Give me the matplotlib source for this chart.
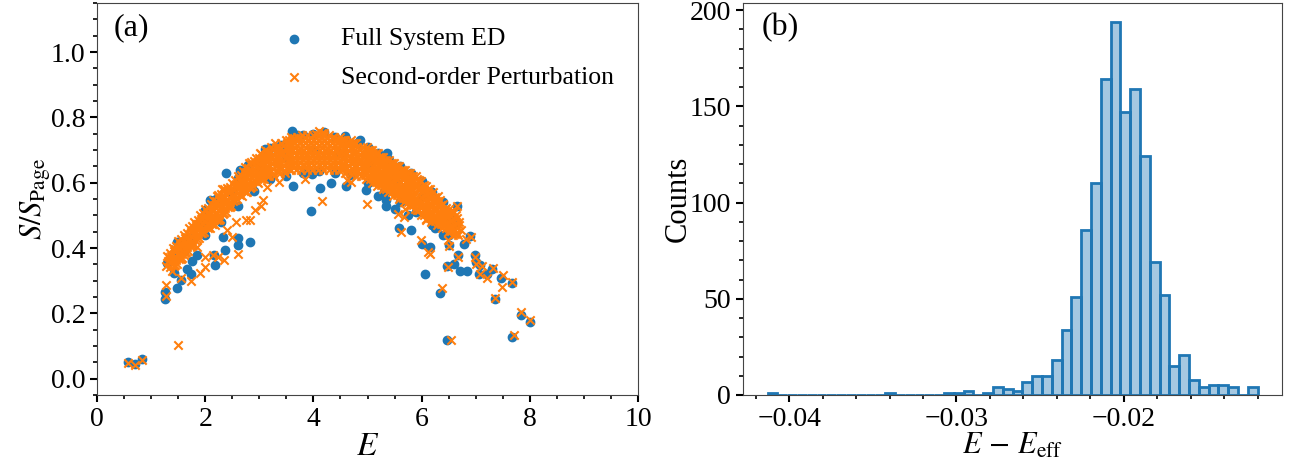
import matplotlib
matplotlib.use("Agg")
import matplotlib.pyplot as plt
import numpy as np

plt.rcParams['font.family'] = 'serif'
plt.rcParams['font.serif'] = ['Liberation Serif', 'DejaVu Serif']
plt.rcParams['mathtext.fontset'] = 'stix'

# ---- panel (a): entanglement entropy vs energy ----
# dense band of the second-order perturbation results (E, S/S_Page)
pt_band = [
    (1.28, 0.345), (1.32, 0.36), (1.30, 0.375),
    (1.38, 0.33), (1.42, 0.345), (1.40, 0.36), (1.37, 0.375), (1.43, 0.39), (1.40, 0.40),
    (1.48, 0.35), (1.52, 0.365), (1.50, 0.38), (1.47, 0.395), (1.53, 0.41), (1.50, 0.42),
    (1.58, 0.37), (1.62, 0.385), (1.60, 0.40), (1.57, 0.415), (1.63, 0.43), (1.60, 0.44),
    (1.68, 0.39), (1.72, 0.405), (1.70, 0.42), (1.67, 0.435), (1.73, 0.45), (1.70, 0.46),
    (1.78, 0.41), (1.82, 0.425), (1.80, 0.44), (1.77, 0.455), (1.83, 0.47), (1.80, 0.48),
    (1.88, 0.43), (1.92, 0.445), (1.90, 0.46), (1.87, 0.475), (1.93, 0.49), (1.90, 0.50),
    (1.98, 0.45), (2.02, 0.465), (2.00, 0.48), (1.97, 0.495), (2.03, 0.51), (2.00, 0.52),
    (2.08, 0.46), (2.12, 0.475), (2.10, 0.49), (2.07, 0.505), (2.13, 0.52), (2.10, 0.535),
    (2.18, 0.47), (2.22, 0.485), (2.20, 0.50), (2.17, 0.515), (2.23, 0.53), (2.20, 0.545), (2.21, 0.56),
    (2.28, 0.49), (2.32, 0.505), (2.30, 0.52), (2.27, 0.535), (2.33, 0.55), (2.30, 0.565), (2.31, 0.58),
    (2.38, 0.51), (2.42, 0.525), (2.40, 0.54), (2.37, 0.555), (2.43, 0.57), (2.40, 0.585),
    (2.48, 0.53), (2.52, 0.545), (2.50, 0.56), (2.47, 0.575), (2.53, 0.59), (2.50, 0.60),
    (2.58, 0.55), (2.62, 0.565), (2.60, 0.58), (2.57, 0.595), (2.63, 0.61), (2.60, 0.62),
    (2.68, 0.56), (2.72, 0.575), (2.70, 0.59), (2.67, 0.605), (2.73, 0.62), (2.70, 0.635),
    (2.78, 0.57), (2.82, 0.585), (2.80, 0.60), (2.77, 0.615), (2.83, 0.63), (2.80, 0.645), (2.81, 0.66),
    (2.88, 0.59), (2.92, 0.605), (2.90, 0.62), (2.87, 0.635), (2.93, 0.65), (2.90, 0.665),
    (2.98, 0.60), (3.02, 0.615), (3.00, 0.63), (2.97, 0.645), (3.03, 0.66), (3.00, 0.675), (3.01, 0.69),
    (3.08, 0.61), (3.12, 0.625), (3.10, 0.64), (3.07, 0.655), (3.13, 0.67), (3.10, 0.685), (3.11, 0.70),
    (3.18, 0.62), (3.22, 0.635), (3.20, 0.65), (3.17, 0.665), (3.23, 0.68), (3.20, 0.695), (3.21, 0.71),
    (3.28, 0.62), (3.32, 0.635), (3.30, 0.65), (3.27, 0.665), (3.33, 0.68), (3.30, 0.695), (3.31, 0.71), (3.29, 0.72),
    (3.38, 0.63), (3.42, 0.645), (3.40, 0.66), (3.37, 0.675), (3.43, 0.69), (3.40, 0.705), (3.41, 0.72),
    (3.48, 0.63), (3.52, 0.645), (3.50, 0.66), (3.47, 0.675), (3.53, 0.69), (3.50, 0.705), (3.51, 0.72), (3.49, 0.73),
    (3.58, 0.64), (3.62, 0.655), (3.60, 0.67), (3.57, 0.685), (3.63, 0.70), (3.60, 0.715), (3.61, 0.73), (3.59, 0.74),
    (3.68, 0.64), (3.72, 0.655), (3.70, 0.67), (3.67, 0.685), (3.73, 0.70), (3.70, 0.715), (3.71, 0.73), (3.69, 0.74),
    (3.78, 0.64), (3.82, 0.655), (3.80, 0.67), (3.77, 0.685), (3.83, 0.70), (3.80, 0.715), (3.81, 0.73), (3.79, 0.745),
    (3.88, 0.64), (3.92, 0.655), (3.90, 0.67), (3.87, 0.685), (3.93, 0.70), (3.90, 0.715), (3.91, 0.73), (3.89, 0.745),
    (3.98, 0.64), (4.02, 0.655), (4.00, 0.67), (3.97, 0.685), (4.03, 0.70), (4.00, 0.715), (4.01, 0.73), (3.99, 0.745),
    (4.08, 0.64), (4.12, 0.655), (4.10, 0.67), (4.07, 0.685), (4.13, 0.70), (4.10, 0.715), (4.11, 0.73), (4.09, 0.745), (4.10, 0.758),
    (4.18, 0.64), (4.22, 0.655), (4.20, 0.67), (4.17, 0.685), (4.23, 0.70), (4.20, 0.715), (4.21, 0.73), (4.19, 0.745), (4.20, 0.752),
    (4.28, 0.64), (4.32, 0.655), (4.30, 0.67), (4.27, 0.685), (4.33, 0.70), (4.30, 0.715), (4.31, 0.73), (4.29, 0.745),
    (4.38, 0.64), (4.42, 0.655), (4.40, 0.67), (4.37, 0.685), (4.43, 0.70), (4.40, 0.715), (4.41, 0.73), (4.39, 0.74),
    (4.48, 0.64), (4.52, 0.655), (4.50, 0.67), (4.47, 0.685), (4.53, 0.70), (4.50, 0.715), (4.51, 0.73), (4.49, 0.74),
    (4.58, 0.63), (4.62, 0.645), (4.60, 0.66), (4.57, 0.675), (4.63, 0.69), (4.60, 0.705), (4.61, 0.72), (4.59, 0.73),
    (4.68, 0.63), (4.72, 0.645), (4.70, 0.66), (4.67, 0.675), (4.73, 0.69), (4.70, 0.705), (4.71, 0.72), (4.69, 0.73),
    (4.78, 0.62), (4.82, 0.635), (4.80, 0.65), (4.77, 0.665), (4.83, 0.68), (4.80, 0.695), (4.81, 0.71), (4.79, 0.72),
    (4.88, 0.62), (4.92, 0.635), (4.90, 0.65), (4.87, 0.665), (4.93, 0.68), (4.90, 0.695), (4.91, 0.71),
    (4.98, 0.61), (5.02, 0.625), (5.00, 0.64), (4.97, 0.655), (5.03, 0.67), (5.00, 0.685), (5.01, 0.70), (4.99, 0.71),
    (5.08, 0.60), (5.12, 0.615), (5.10, 0.63), (5.07, 0.645), (5.13, 0.66), (5.10, 0.675), (5.11, 0.69), (5.09, 0.70),
    (5.18, 0.59), (5.22, 0.605), (5.20, 0.62), (5.17, 0.635), (5.23, 0.65), (5.20, 0.665), (5.21, 0.68), (5.19, 0.69),
    (5.28, 0.58), (5.32, 0.595), (5.30, 0.61), (5.27, 0.625), (5.33, 0.64), (5.30, 0.655), (5.31, 0.67), (5.29, 0.68),
    (5.38, 0.57), (5.42, 0.585), (5.40, 0.60), (5.37, 0.615), (5.43, 0.63), (5.40, 0.645), (5.41, 0.66), (5.39, 0.67),
    (5.48, 0.56), (5.52, 0.575), (5.50, 0.59), (5.47, 0.605), (5.53, 0.62), (5.50, 0.635), (5.51, 0.65), (5.49, 0.66),
    (5.58, 0.55), (5.62, 0.565), (5.60, 0.58), (5.57, 0.595), (5.63, 0.61), (5.60, 0.625), (5.61, 0.64), (5.59, 0.65),
    (5.68, 0.54), (5.72, 0.555), (5.70, 0.57), (5.67, 0.585), (5.73, 0.60), (5.70, 0.615), (5.71, 0.63), (5.69, 0.64),
    (5.78, 0.53), (5.82, 0.545), (5.80, 0.56), (5.77, 0.575), (5.83, 0.59), (5.80, 0.605), (5.81, 0.62), (5.79, 0.63),
    (5.88, 0.52), (5.92, 0.535), (5.90, 0.55), (5.87, 0.565), (5.93, 0.58), (5.90, 0.595), (5.91, 0.61), (5.89, 0.62),
    (5.98, 0.50), (6.02, 0.515), (6.00, 0.53), (5.97, 0.545), (6.03, 0.56), (6.00, 0.575), (6.01, 0.59), (5.99, 0.605),
    (6.08, 0.49), (6.12, 0.505), (6.10, 0.52), (6.07, 0.535), (6.13, 0.55), (6.10, 0.565), (6.11, 0.58), (6.09, 0.59),
    (6.18, 0.48), (6.22, 0.495), (6.20, 0.51), (6.17, 0.525), (6.23, 0.54), (6.20, 0.555), (6.21, 0.57),
    (6.28, 0.47), (6.32, 0.485), (6.30, 0.50), (6.27, 0.515), (6.33, 0.53), (6.30, 0.545), (6.31, 0.56),
    (6.38, 0.46), (6.42, 0.475), (6.40, 0.49), (6.37, 0.505), (6.43, 0.52), (6.40, 0.535),
    (6.48, 0.45), (6.52, 0.465), (6.50, 0.48), (6.47, 0.495), (6.53, 0.51), (6.50, 0.52),
    (6.58, 0.44), (6.62, 0.455), (6.60, 0.47), (6.57, 0.485), (6.63, 0.50), (6.60, 0.51),
    (6.68, 0.44), (6.72, 0.455), (6.70, 0.47), (6.69, 0.48),
]

# more band points, read between the columns above
pt_band2 = [
    (1.35, 0.342), (1.36, 0.357), (1.34, 0.372), (1.35, 0.386),
    (1.45, 0.347), (1.46, 0.362), (1.44, 0.377), (1.45, 0.392), (1.46, 0.407),
    (1.55, 0.367), (1.56, 0.382), (1.54, 0.397), (1.55, 0.412), (1.56, 0.427),
    (1.65, 0.387), (1.66, 0.402), (1.64, 0.417), (1.65, 0.432), (1.66, 0.447),
    (1.75, 0.407), (1.76, 0.422), (1.74, 0.437), (1.75, 0.452), (1.76, 0.467),
    (1.85, 0.427), (1.86, 0.442), (1.84, 0.457), (1.85, 0.472), (1.86, 0.487),
    (1.95, 0.447), (1.96, 0.462), (1.94, 0.477), (1.95, 0.492), (1.96, 0.507),
    (2.05, 0.462), (2.06, 0.477), (2.04, 0.492), (2.05, 0.507), (2.06, 0.522),
    (2.15, 0.472), (2.16, 0.487), (2.14, 0.502), (2.15, 0.517), (2.16, 0.532), (2.14, 0.547),
    (2.25, 0.487), (2.26, 0.502), (2.24, 0.517), (2.25, 0.532), (2.26, 0.547), (2.24, 0.562),
    (2.35, 0.507), (2.36, 0.522), (2.34, 0.537), (2.35, 0.552), (2.36, 0.567), (2.34, 0.582),
    (2.45, 0.527), (2.46, 0.542), (2.44, 0.557), (2.45, 0.572), (2.46, 0.587),
    (2.55, 0.547), (2.56, 0.562), (2.54, 0.577), (2.55, 0.592), (2.56, 0.607),
    (2.65, 0.562), (2.66, 0.577), (2.64, 0.592), (2.65, 0.607), (2.66, 0.622),
    (2.75, 0.572), (2.76, 0.587), (2.74, 0.602), (2.75, 0.617), (2.76, 0.632), (2.74, 0.647),
    (2.85, 0.587), (2.86, 0.602), (2.84, 0.617), (2.85, 0.632), (2.86, 0.647), (2.84, 0.662),
    (2.95, 0.602), (2.96, 0.617), (2.94, 0.632), (2.95, 0.647), (2.96, 0.662), (2.94, 0.677),
    (3.05, 0.612), (3.06, 0.627), (3.04, 0.642), (3.05, 0.657), (3.06, 0.672), (3.04, 0.687),
    (3.15, 0.622), (3.16, 0.637), (3.14, 0.652), (3.15, 0.667), (3.16, 0.682), (3.14, 0.697),
    (3.25, 0.627), (3.26, 0.642), (3.24, 0.657), (3.25, 0.672), (3.26, 0.687), (3.24, 0.702),
    (3.35, 0.632), (3.36, 0.647), (3.34, 0.662), (3.35, 0.677), (3.36, 0.692), (3.34, 0.707),
    (3.45, 0.637), (3.46, 0.652), (3.44, 0.667), (3.45, 0.682), (3.46, 0.697), (3.44, 0.712),
    (3.55, 0.642), (3.56, 0.657), (3.54, 0.672), (3.55, 0.687), (3.56, 0.702), (3.54, 0.717), (3.55, 0.730),
    (3.65, 0.647), (3.66, 0.662), (3.64, 0.677), (3.65, 0.692), (3.66, 0.707), (3.64, 0.722), (3.65, 0.736),
    (3.75, 0.647), (3.76, 0.662), (3.74, 0.677), (3.75, 0.692), (3.76, 0.707), (3.74, 0.722), (3.75, 0.737),
    (3.85, 0.647), (3.86, 0.662), (3.84, 0.677), (3.85, 0.692), (3.86, 0.707), (3.84, 0.722), (3.85, 0.737),
    (3.95, 0.647), (3.96, 0.662), (3.94, 0.677), (3.95, 0.692), (3.96, 0.707), (3.94, 0.722), (3.95, 0.737),
    (4.05, 0.647), (4.06, 0.662), (4.04, 0.677), (4.05, 0.692), (4.06, 0.707), (4.04, 0.722), (4.05, 0.737), (4.05, 0.750),
    (4.15, 0.647), (4.16, 0.662), (4.14, 0.677), (4.15, 0.692), (4.16, 0.707), (4.14, 0.722), (4.15, 0.737), (4.15, 0.752),
    (4.25, 0.647), (4.26, 0.662), (4.24, 0.677), (4.25, 0.692), (4.26, 0.707), (4.24, 0.722), (4.25, 0.737),
    (4.35, 0.647), (4.36, 0.662), (4.34, 0.677), (4.35, 0.692), (4.36, 0.707), (4.34, 0.722), (4.35, 0.737),
    (4.45, 0.647), (4.46, 0.662), (4.44, 0.677), (4.45, 0.692), (4.46, 0.707), (4.44, 0.722), (4.45, 0.735),
    (4.55, 0.642), (4.56, 0.657), (4.54, 0.672), (4.55, 0.687), (4.56, 0.702), (4.54, 0.717), (4.55, 0.730),
    (4.65, 0.637), (4.66, 0.652), (4.64, 0.667), (4.65, 0.682), (4.66, 0.697), (4.64, 0.712), (4.65, 0.725),
    (4.75, 0.632), (4.76, 0.647), (4.74, 0.662), (4.75, 0.677), (4.76, 0.692), (4.74, 0.707), (4.75, 0.720),
    (4.85, 0.627), (4.86, 0.642), (4.84, 0.657), (4.85, 0.672), (4.86, 0.687), (4.84, 0.702),
    (4.95, 0.622), (4.96, 0.637), (4.94, 0.652), (4.95, 0.667), (4.96, 0.682), (4.94, 0.697),
    (5.05, 0.612), (5.06, 0.627), (5.04, 0.642), (5.05, 0.657), (5.06, 0.672), (5.04, 0.687), (5.05, 0.700),
    (5.15, 0.602), (5.16, 0.617), (5.14, 0.632), (5.15, 0.647), (5.16, 0.662), (5.14, 0.677), (5.15, 0.690),
    (5.25, 0.592), (5.26, 0.607), (5.24, 0.622), (5.25, 0.637), (5.26, 0.652), (5.24, 0.667), (5.25, 0.680),
    (5.35, 0.582), (5.36, 0.597), (5.34, 0.612), (5.35, 0.627), (5.36, 0.642), (5.34, 0.657), (5.35, 0.670),
    (5.45, 0.572), (5.46, 0.587), (5.44, 0.602), (5.45, 0.617), (5.46, 0.632), (5.44, 0.647), (5.45, 0.660),
    (5.55, 0.562), (5.56, 0.577), (5.54, 0.592), (5.55, 0.607), (5.56, 0.622), (5.54, 0.637), (5.55, 0.650),
    (5.65, 0.552), (5.66, 0.567), (5.64, 0.582), (5.65, 0.597), (5.66, 0.612), (5.64, 0.627), (5.65, 0.640),
    (5.75, 0.542), (5.76, 0.557), (5.74, 0.572), (5.75, 0.587), (5.76, 0.602), (5.74, 0.617), (5.75, 0.630),
    (5.85, 0.532), (5.86, 0.547), (5.84, 0.562), (5.85, 0.577), (5.86, 0.592), (5.84, 0.607), (5.85, 0.620),
    (5.95, 0.517), (5.96, 0.532), (5.94, 0.547), (5.95, 0.562), (5.96, 0.577), (5.94, 0.592), (5.95, 0.607),
    (6.05, 0.502), (6.06, 0.517), (6.04, 0.532), (6.05, 0.547), (6.06, 0.562), (6.04, 0.577), (6.05, 0.592),
    (6.15, 0.492), (6.16, 0.507), (6.14, 0.522), (6.15, 0.537), (6.16, 0.552), (6.14, 0.567), (6.15, 0.580),
    (6.25, 0.482), (6.26, 0.497), (6.24, 0.512), (6.25, 0.527), (6.26, 0.542), (6.24, 0.557),
    (6.35, 0.472), (6.36, 0.487), (6.34, 0.502), (6.35, 0.517), (6.36, 0.532), (6.34, 0.547),
    (6.45, 0.462), (6.46, 0.477), (6.44, 0.492), (6.45, 0.507), (6.46, 0.522),
    (6.55, 0.452), (6.56, 0.467), (6.54, 0.482), (6.55, 0.497), (6.56, 0.512),
    (6.65, 0.447), (6.66, 0.462), (6.64, 0.477), (6.65, 0.492),
]

# scattered perturbation points off the band
pt_sparse = [
    (0.58, 0.049), (0.70, 0.042), (0.84, 0.057), (1.50, 0.102),
    (1.27, 0.286), (1.27, 0.253), (1.45, 0.398), (1.55, 0.309), (1.61, 0.378),
    (1.73, 0.298), (1.84, 0.403), (1.90, 0.323), (1.99, 0.342), (1.99, 0.372),
    (2.14, 0.378), (2.24, 0.372), (2.34, 0.364), (2.41, 0.454), (2.49, 0.434),
    (2.57, 0.48), (2.61, 0.381), (2.75, 0.485), (2.82, 0.485), (2.92, 0.517),
    (3.04, 0.528), (3.06, 0.548), (3.14, 0.587), (3.37, 0.602), (3.84, 0.612),
    (4.16, 0.544), (4.63, 0.607), (4.70, 0.602), (4.99, 0.536), (5.56, 0.505),
    (5.62, 0.449), (5.68, 0.495), (5.69, 0.52), (5.92, 0.515), (5.99, 0.423),
    (6.09, 0.485), (6.12, 0.388), (6.15, 0.383), (6.22, 0.495), (6.37, 0.279),
    (6.42, 0.485), (6.49, 0.342), (6.49, 0.423), (6.50, 0.406), (6.52, 0.454),
    (6.54, 0.119), (6.62, 0.444), (6.66, 0.529), (6.68, 0.373), (6.82, 0.427),
    (6.91, 0.434), (6.99, 0.373), (7.01, 0.352), (7.08, 0.319), (7.11, 0.345),
    (7.21, 0.308), (7.32, 0.339), (7.35, 0.247), (7.49, 0.281), (7.51, 0.316),
    (7.68, 0.296), (7.70, 0.133), (7.84, 0.204), (8.01, 0.179),
]

# full-system ED points (mostly hidden below the perturbation band)
ed_band = [
    (1.50, 0.39), (1.70, 0.43), (2.00, 0.48), (2.00, 0.515), (2.20, 0.55),
    (2.50, 0.57), (2.60, 0.615), (2.80, 0.655), (3.00, 0.65), (3.20, 0.705),
    (3.40, 0.715), (3.50, 0.68), (3.70, 0.745), (3.80, 0.745), (4.00, 0.70),
    (4.00, 0.75), (4.20, 0.755), (4.40, 0.74), (4.50, 0.69), (4.60, 0.735),
    (4.80, 0.72), (5.00, 0.66), (5.00, 0.71), (5.20, 0.69), (5.40, 0.67),
    (5.50, 0.61), (5.60, 0.65), (5.80, 0.63), (6.00, 0.56), (6.00, 0.605),
    (6.20, 0.57), (6.40, 0.54),
    (2.00, 0.44), (2.30, 0.48), (2.60, 0.53), (2.90, 0.575), (3.20, 0.61),
    (3.50, 0.62), (3.80, 0.63), (4.10, 0.635), (4.40, 0.63), (4.70, 0.625),
    (5.00, 0.60), (5.30, 0.57), (5.60, 0.54), (5.90, 0.51), (6.20, 0.47),
    (6.50, 0.44),
]

ed_sparse = [
    (0.58, 0.051), (0.70, 0.044), (0.84, 0.059), (1.26, 0.243), (1.26, 0.265),
    (1.30, 0.355), (1.43, 0.324), (1.47, 0.279), (1.47, 0.418), (1.55, 0.303),
    (1.60, 0.39), (1.66, 0.337), (1.73, 0.319), (1.75, 0.36), (1.85, 0.38),
    (1.90, 0.48), (2.08, 0.546), (2.17, 0.378), (2.19, 0.349), (2.32, 0.434),
    (2.36, 0.393), (2.39, 0.63), (2.60, 0.432), (2.60, 0.41), (2.64, 0.64),
    (2.83, 0.418), (3.10, 0.704), (3.61, 0.757), (3.63, 0.589), (3.95, 0.512),
    (3.97, 0.626), (4.13, 0.584), (4.33, 0.60), (4.58, 0.742), (4.60, 0.591),
    (4.86, 0.73), (4.97, 0.577), (5.20, 0.56), (5.34, 0.546), (5.34, 0.53),
    (5.36, 0.692), (5.50, 0.52), (5.59, 0.461), (5.75, 0.50), (5.81, 0.454),
    (6.00, 0.413), (6.07, 0.321), (6.15, 0.403), (6.25, 0.46), (6.34, 0.263),
    (6.40, 0.44), (6.47, 0.117), (6.47, 0.345), (6.50, 0.408), (6.55, 0.49),
    (6.59, 0.352), (6.62, 0.469), (6.65, 0.529), (6.68, 0.378), (6.71, 0.33),
    (6.78, 0.413), (6.83, 0.33), (6.90, 0.437), (6.98, 0.378), (7.00, 0.357),
    (7.07, 0.319), (7.08, 0.347), (7.21, 0.319), (7.31, 0.337), (7.35, 0.243),
    (7.47, 0.308), (7.68, 0.294), (7.68, 0.128), (7.83, 0.196), (8.00, 0.173),
]

# ---- panel (b): histogram of E - E_eff ----
hist_lo, hist_hi = -0.0413, -0.0120
hist_counts = [1, 0, 0, 0, 0, 0, 0, 0, 0, 0, 0, 0, 1, 0, 0, 0, 0, 0, 1, 1,
               2, 0, 1, 4, 3, 2, 7, 10, 10, 18, 34, 51, 86, 110, 164, 194, 147, 159, 124, 69,
               52, 15, 21, 8, 4, 5, 5, 4, 0, 4]

fig = plt.figure(figsize=(12.97, 4.74), dpi=100)
ax1 = fig.add_axes([97/1297, 79/474, 541/1297, 392/474])
ax2 = fig.add_axes([743/1297, 79/474, 539/1297, 392/474])

ed = np.array(ed_band + ed_sparse)
pt = np.array(pt_band + pt_band2 + pt_sparse)
ax1.scatter(ed[:, 0], ed[:, 1], s=36, color='C0', marker='o', label='Full System ED')
ax1.scatter(pt[:, 0], pt[:, 1], s=36, color='C1', marker='x', linewidths=1.5,
            label='Second-order Perturbation')
ax1.set_xlim(0, 10)
ax1.set_ylim(-0.05, 1.15)
ax1.set_xticks([0, 2, 4, 6, 8, 10])
ax1.set_yticks([0.0, 0.2, 0.4, 0.6, 0.8, 1.0])
ax1.set_xticks(np.arange(0, 10.01, 0.5), minor=True)
ax1.set_yticks(np.arange(-0.05, 1.151, 0.05), minor=True)
ax1.set_xlabel(r'$E$', fontsize=24, labelpad=0)
ax1.set_ylabel(r'$S/S_{\rm Page}$', fontsize=22, labelpad=-2)
ax1.legend(loc='upper right', frameon=False, fontsize=18.5, scatterpoints=1,
           handletextpad=0.8, labelspacing=0.6, borderaxespad=0.55)
ax1.text(0.03, 0.975, '(a)', transform=ax1.transAxes, fontsize=23, va='top', ha='left')

edges = np.linspace(hist_lo, hist_hi, len(hist_counts) + 1)
centers = 0.5 * (edges[:-1] + edges[1:])
ax2.hist(centers, bins=edges, weights=hist_counts,
         facecolor=(0.122, 0.467, 0.706, 0.4), edgecolor='C0', linewidth=2)
ax2.set_xticks([-0.04, -0.03, -0.02])
ax2.set_xticks(np.arange(-0.042, -0.0105, 0.002), minor=True)
ax2.set_yticks([0, 50, 100, 150, 200])
ax2.set_yticks(np.arange(0, 201, 10), minor=True)
ax2.set_xlabel(r'$E\,-\,E_{\rm eff}$', fontsize=22, labelpad=0)
ax2.set_ylabel('Counts', fontsize=22, labelpad=-2)
ax2.text(0.035, 0.975, '(b)', transform=ax2.transAxes, fontsize=23, va='top', ha='left')

for ax in (ax1, ax2):
    ax.tick_params(which='major', direction='out', length=5, width=1.5, labelsize=20)
    ax.tick_params(which='minor', direction='out', length=3, width=1.2)
    for sp in ax.spines.values():
        sp.set_color('#444444')

fig.savefig('out.png', dpi=100)
